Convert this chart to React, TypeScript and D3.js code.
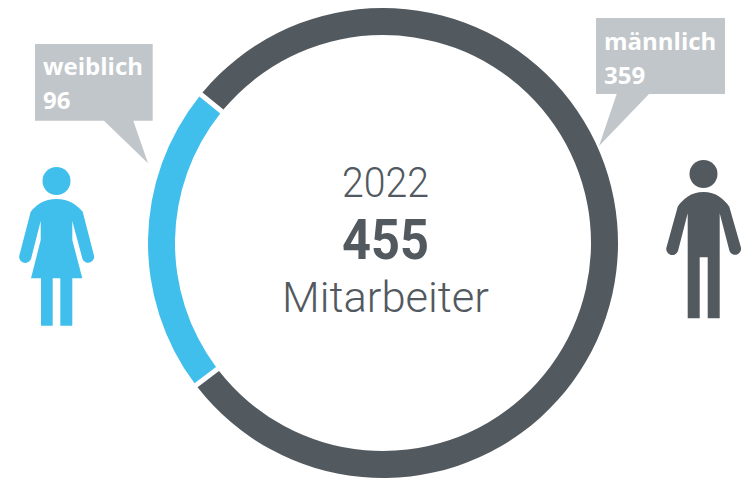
import React from "react";
import * as d3 from "d3";

const categories = ["männlich", "weiblich"];
const values = [359, 96];
const colors = ["#52595f", "#41bfec"];
const year = "2022";
const total = 455;
const unit = "Mitarbeiter";

const cx = 383, cy = 243, outerR = 235, innerR = 208;
const deg = Math.PI / 180;

const womanPath = "M56.5,199 C44,199 36,205 30.7,211.7 L19.6,254.5 A6,6 0 0 0 31,259 L40.7,221 L40.7,240 L31,278.3 L41,278.3 L41,325.7 L52.7,325.7 L52.7,278.3 L60.3,278.3 L60.3,325.7 L72.3,325.7 L72.3,278.3 L82.3,278.3 L72.3,240 L72.3,221 L82.5,259 A6,6 0 0 0 93.7,254.5 L82.7,211.7 C77,205 69,199 56.5,199 Z";
const manPath = "M703.5,192 C691,192 683,199 677.7,206.7 L666.6,247 A6,6 0 0 0 678,251 L687.7,213.3 L687.7,318.3 L699.7,318.3 L699.7,257.3 L707.7,257.3 L707.7,318.3 L719.7,318.3 L719.7,213.3 L729.5,251 A6,6 0 0 0 740.8,247 L729.3,206.7 C724,199 716,192 703.5,192 Z";

export default function App() {
  const pie = d3.pie<number>().sort(null).startAngle(-50.8 * deg).endAngle(309.2 * deg).padAngle(0.016);
  const arc = d3.arc<d3.PieArcDatum<number>>().innerRadius(innerR).outerRadius(outerR);
  const arcs = pie(values);
  const bubbleText: React.CSSProperties = { fontFamily: "'Open Sans', sans-serif", fontWeight: 700, fontSize: 24, fill: "#fff" };
  const centerFont = "Roboto, sans-serif";
  return (
    <svg width={746} height={479} style={{ position: "absolute", left: 0, top: 0, background: "#fff" }}>
      <g transform={`translate(${cx},${cy})`}>
        {arcs.map((a, i) => <path key={categories[i]} d={arc(a) || ""} fill={colors[i]} />)}
      </g>

      <path d="M35,44 H152.7 V120.7 H133.3 L148,163.3 L104,120.7 H35 Z" fill="#c1c6ca" />
      <text x={43} y={75} style={bubbleText}>{categories[1]}</text>
      <text x={43} y={109} style={bubbleText}>{values[1]}</text>

      <path d="M596,18 H725 V94 H649 L599,146 L616.7,94 H596 Z" fill="#c1c6ca" />
      <text x={604} y={50} style={bubbleText}>{categories[0]}</text>
      <text x={604} y={84} style={bubbleText}>{values[0]}</text>

      <circle cx={56.5} cy={181} r={14} fill={colors[1]} />
      <path d={womanPath} fill={colors[1]} />
      <circle cx={703.5} cy={174} r={14} fill={colors[0]} />
      <path d={manPath} fill={colors[0]} />

      <text x={342} y={197} textLength={87} lengthAdjust="spacingAndGlyphs" fontFamily={centerFont} fontWeight={300} fontSize={43} fill={colors[0]}>{year}</text>
      <text x={342} y={259} textLength={87} lengthAdjust="spacingAndGlyphs" fontFamily={centerFont} fontWeight={700} fontSize={55} fill={colors[0]}>{total}</text>
      <text x={282} y={312} textLength={207} lengthAdjust="spacingAndGlyphs" fontFamily={centerFont} fontWeight={300} fontSize={42} fill={colors[0]}>{unit}</text>
    </svg>
  );
}
